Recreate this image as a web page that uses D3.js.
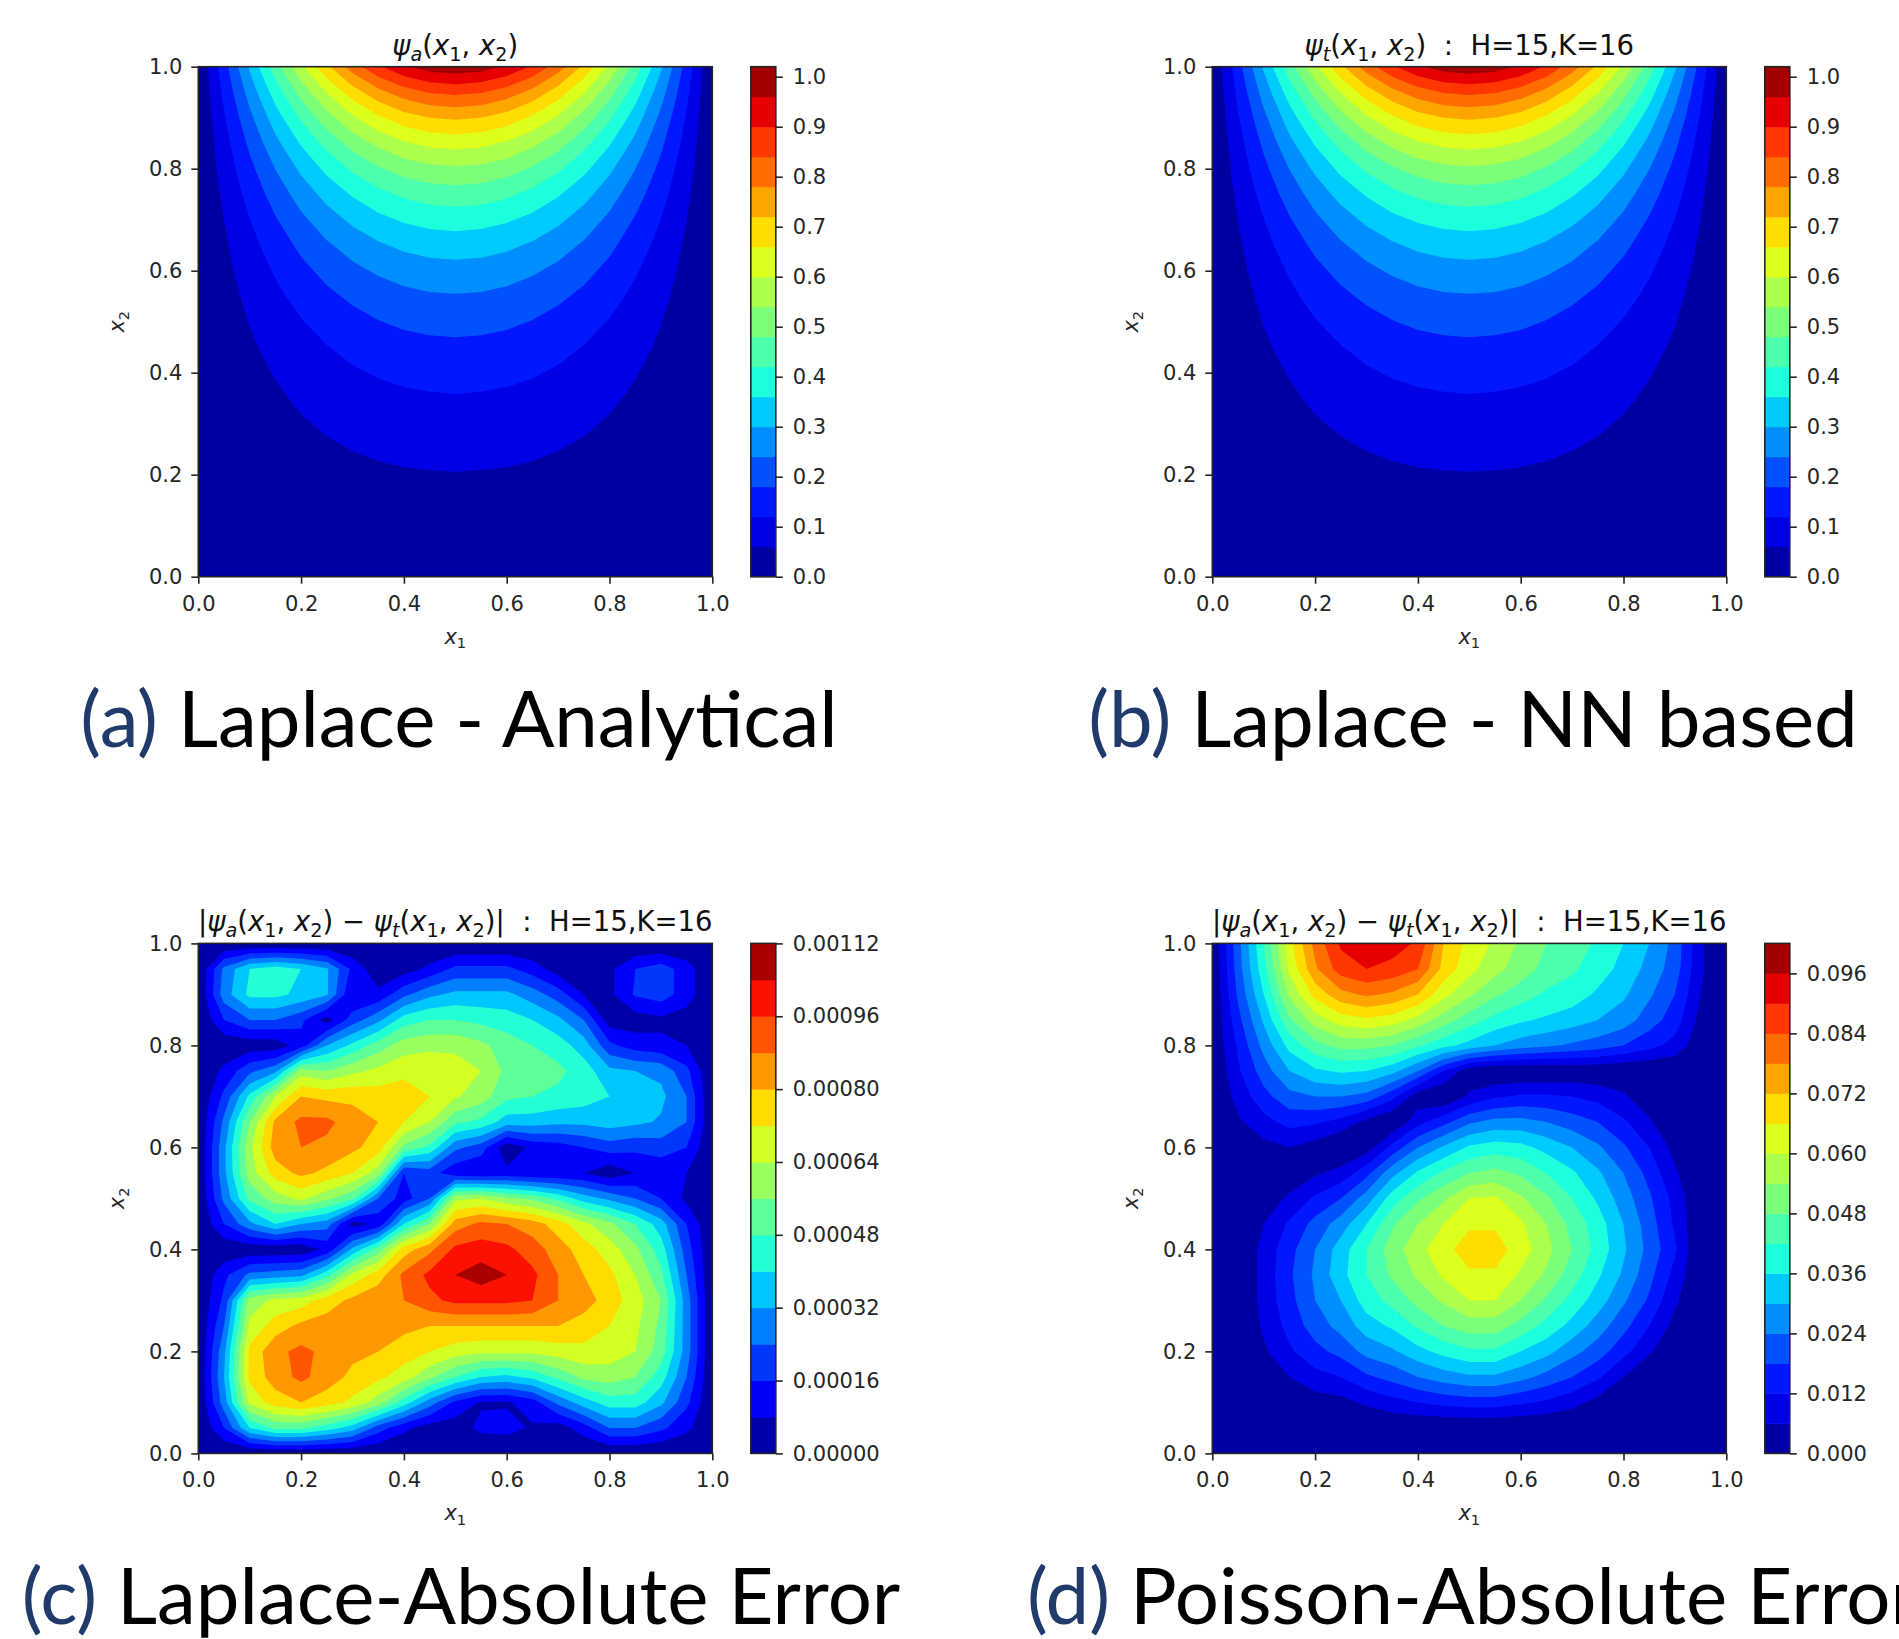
<!DOCTYPE html>
<html>
<head>
<meta charset="utf-8">
<script src="https://cdn.jsdelivr.net/npm/d3@7"></script>
<style>
  body { margin: 0; background: #fff; }
  .title { white-space: pre; }
</style>
</head>
<body>
<svg id="figure" width="1899" height="1639"></svg>
<script>
// sample grid: 21 x 21 points, x1 and x2 both from 0 to 1 in steps of 0.05
// every inner array is one x1 column, its values run from x2 = 0 up to x2 = 1
const axisTicks = [0, 0.2, 0.4, 0.6, 0.8, 1.0];

// (a) analytical Laplace solution
const laplaceAnalytical = [
  [0, 0, 0, 0, 0, 0, 0, 0, 0, 0, 0, 0, 0, 0, 0, 0, 0, 0, 0, 0, 0],
  [0, .002, .004, .007, .009, .012, .015, .018, .022, .026, .031, .037, .044, .051, .060, .071, .083, .097, .114, .134, .156],
  [0, .004, .009, .013, .018, .023, .029, .036, .043, .052, .062, .073, .086, .101, .119, .140, .164, .192, .225, .264, .309],
  [0, .006, .013, .019, .026, .034, .043, .052, .063, .076, .090, .107, .126, .149, .175, .206, .241, .283, .331, .388, .454],
  [0, .008, .016, .025, .034, .044, .055, .068, .082, .098, .117, .139, .164, .193, .227, .266, .312, .366, .429, .502, .588],
  [0, .010, .020, .030, .041, .053, .067, .082, .099, .118, .141, .167, .197, .232, .273, .320, .375, .440, .516, .604, .707],
  [0, .011, .022, .034, .047, .061, .076, .094, .113, .136, .161, .191, .225, .265, .312, .366, .430, .504, .590, .691, .809],
  [0, .012, .025, .038, .052, .067, .084, .103, .125, .149, .178, .210, .248, .292, .344, .403, .473, .555, .650, .761, .891],
  [0, .013, .026, .040, .055, .072, .090, .110, .133, .159, .190, .224, .265, .312, .367, .431, .505, .592, .694, .812, .951],
  [0, .014, .027, .042, .057, .074, .093, .114, .138, .165, .197, .233, .275, .324, .381, .447, .524, .615, .720, .844, .988],
  [0, .014, .028, .042, .058, .075, .094, .116, .140, .168, .199, .236, .279, .328, .386, .453, .531, .622, .729, .854, 1.0],
  [0, .014, .027, .042, .057, .074, .093, .114, .138, .165, .197, .233, .275, .324, .381, .447, .524, .615, .720, .844, .988],
  [0, .013, .026, .040, .055, .072, .090, .110, .133, .159, .190, .224, .265, .312, .367, .431, .505, .592, .694, .812, .951],
  [0, .012, .025, .038, .052, .067, .084, .103, .125, .149, .178, .210, .248, .292, .344, .403, .473, .555, .650, .761, .891],
  [0, .011, .022, .034, .047, .061, .076, .094, .113, .136, .161, .191, .225, .265, .312, .366, .430, .504, .590, .691, .809],
  [0, .010, .020, .030, .041, .053, .067, .082, .099, .118, .141, .167, .197, .232, .273, .320, .375, .440, .516, .604, .707],
  [0, .008, .016, .025, .034, .044, .055, .068, .082, .098, .117, .139, .164, .193, .227, .266, .312, .366, .429, .502, .588],
  [0, .006, .013, .019, .026, .034, .043, .052, .063, .076, .090, .107, .126, .149, .175, .206, .241, .283, .331, .388, .454],
  [0, .004, .009, .013, .018, .023, .029, .036, .043, .052, .062, .073, .086, .101, .119, .140, .164, .192, .225, .264, .309],
  [0, .002, .004, .007, .009, .012, .015, .018, .022, .026, .031, .037, .044, .051, .060, .071, .083, .097, .114, .134, .156],
  [0, 0, 0, 0, 0, 0, 0, 0, 0, 0, 0, 0, 0, 0, 0, 0, 0, 0, 0, 0, 0]
];
// (b) network solution: its bands read the same as (a) at this size
const laplaceNN = laplaceAnalytical;

// (c) Laplace absolute error, in units of 1e-5
const laplaceErr = [
  [0, 0, 0, 0, 0, 0, 0, 0, 0, 0, 0, 0, 0, 0, 0, 0, 0, 0, 0, 0, 0],
  [0, 16, 28, 32, 30, 24, 18, 14, 2, 16, 26, 30, 30, 26, 18, 10, 2, 16, 28, 26, 0],
  [0, 40, 66, 74, 74, 66, 60, 26, 2, 30, 50, 60, 62, 56, 42, 22, 3, 24, 42, 40, 0],
  [0, 50, 76, 84, 86, 76, 66, 28, 2, 40, 60, 76, 84, 82, 64, 30, 3, 24, 42, 44, 0],
  [0, 50, 80, 90, 90, 82, 68, 30, 2, 32, 66, 82, 88, 90, 80, 60, 12, 18, 38, 40, 0],
  [0, 44, 76, 84, 86, 84, 76, 45, 10, 28, 58, 78, 86, 90, 78, 56, 32, 4, 33, 33, 0],
  [0, 36, 70, 78, 82, 84, 82, 66, 34, 4, 50, 72, 82, 84, 78, 62, 42, 20, 8, 14, 0],
  [0, 20, 60, 74, 80, 84, 86, 76, 52, 10, 24, 60, 76, 80, 76, 66, 52, 30, 10, 2, 0],
  [0, 10, 44, 68, 76, 82, 88, 90, 76, 40, 12, 16, 54, 72, 76, 70, 60, 44, 22, 4, 0],
  [0, 4, 28, 58, 72, 80, 94, 98, 86, 56, 24, 20, 46, 64, 72, 70, 62, 48, 30, 10, 0],
  [0, 4, 14, 48, 68, 80, 98, 104, 98, 84, 62, 10, 26, 50, 65, 68, 62, 48, 34, 18, 0],
  [0, 10, 7, 40, 66, 80, 98, 108, 100, 90, 64, 8, 20, 46, 60, 64, 58, 46, 34, 18, 0],
  [0, 11, 7, 38, 66, 80, 98, 104, 98, 88, 58, 10, 2, 36, 50, 54, 52, 44, 34, 18, 0],
  [0, 7, 12, 42, 66, 80, 96, 98, 92, 84, 54, 8, 10, 36, 48, 52, 48, 40, 28, 12, 0],
  [0, 4, 26, 50, 68, 80, 88, 88, 84, 76, 46, 8, 12, 34, 46, 50, 44, 34, 20, 4, 0],
  [0, 12, 36, 58, 70, 76, 84, 80, 76, 66, 36, 8, 16, 34, 44, 44, 36, 24, 8, 2, 0],
  [0, 24, 44, 60, 68, 72, 76, 74, 68, 58, 30, 2, 20, 36, 40, 34, 18, 4, 6, 6, 0],
  [0, 24, 44, 56, 64, 66, 68, 64, 58, 48, 24, 8, 18, 34, 38, 32, 12, 4, 17, 16, 0],
  [0, 18, 34, 44, 52, 54, 56, 50, 44, 36, 16, 10, 20, 31, 34, 30, 10, 6, 20, 20, 0],
  [0, 10, 18, 24, 28, 28, 28, 24, 20, 16, 6, 8, 16, 24, 24, 18, 8, 4, 12, 12, 0],
  [0, 0, 0, 0, 0, 0, 0, 0, 0, 0, 0, 0, 0, 0, 0, 0, 0, 0, 0, 0, 0]
];
const laplaceErrUnit = 1e-5;

// (d) Poisson absolute error, in units of 1e-3
const poissonErr = [
  [0, 0, 0, 0, 0, 0, 0, 0, 0, 0, 0, 0, 0, 0, 0, 0, 0, 0, 0, 0, 0],
  [0, 0, 0, 0, 0, 0, 0, 0, 0, 0, 0, 0, 2, 5, 8, 11, 13, 16, 19, 21, 22],
  [0, 0, 0, 2, 5, 7, 8, 8, 8, 6, 3, 0, 4, 10, 16, 21, 26, 31, 36, 40, 42],
  [0, 0, 0, 6, 11, 14, 16, 17, 16, 13, 7, 2, 6, 14, 22, 30, 38, 47, 55, 61, 64],
  [0, 0, 3, 10, 16, 21, 24, 25, 24, 20, 13, 5, 3, 13, 24, 35, 46, 57, 68, 77, 80],
  [0, 0, 4, 12, 20, 26, 30, 34, 33, 27, 18, 8, 0, 10, 24, 37, 50, 63, 76, 87, 91],
  [0, 0, 7, 17, 26, 33, 39, 42, 42, 36, 27, 16, 3, 4, 22, 36, 50, 65, 79, 90, 94],
  [0, 0, 10, 20, 29, 37, 44, 49, 51, 47, 39, 28, 14, 0, 14, 32, 48, 63, 77, 88, 93],
  [0, 0, 12, 24, 34, 43, 50, 55, 58, 54, 47, 37, 24, 10, 2, 24, 43, 58, 72, 84, 89],
  [0, 0, 14, 27, 38, 48, 55, 61, 64, 60, 53, 43, 31, 16, 0, 12, 38, 51, 62, 70, 72],
  [0, 0, 15, 29, 41, 51, 60, 65, 69, 65, 60, 48, 37, 23, 7, 2, 34, 45, 55, 62, 64],
  [0, 0, 15, 29, 41, 51, 60, 65, 69, 65, 61, 50, 39, 26, 11, 0, 30, 40, 49, 56, 59],
  [0, 0, 13, 26, 36, 46, 54, 59, 63, 61, 55, 47, 38, 26, 13, 0, 27, 37, 45, 51, 53],
  [0, 0, 11, 22, 32, 40, 47, 53, 56, 54, 49, 42, 34, 24, 13, 0, 25, 35, 41, 46, 48],
  [0, 0, 8, 18, 26, 34, 40, 45, 48, 46, 42, 37, 30, 21, 12, 1, 23, 33, 39, 43, 45],
  [0, 0, 4, 13, 21, 27, 33, 37, 40, 39, 35, 31, 25, 18, 10, 1, 21, 30, 35, 39, 41],
  [0, 0, 0, 6, 14, 20, 25, 29, 31, 30, 27, 24, 19, 13, 7, 0, 18, 27, 31, 34, 36],
  [0, 0, 0, 0, 7, 12, 17, 20, 22, 21, 19, 16, 12, 7, 2, 0, 14, 21, 25, 28, 30],
  [0, 0, 0, 0, 0, 4, 7, 10, 13, 11, 10, 7, 4, 0, 0, 0, 10, 15, 18, 21, 22],
  [0, 0, 0, 0, 0, 0, 0, 0, 0, 0, 0, 0, 0, 0, 0, 0, 2, 4, 6, 7, 7],
  [0, 0, 0, 0, 0, 0, 0, 0, 0, 0, 0, 0, 0, 0, 0, 0, 0, 0, 0, 0, 0]
];
const poissonErrUnit = 1e-3;

// contour levels and colorbar ticks
const laplaceLevels = [0, 0.06, 0.12, 0.18, 0.24, 0.30, 0.36, 0.42, 0.48, 0.54, 0.60, 0.66, 0.72, 0.78, 0.84, 0.90, 0.96, 1.02];
const laplaceCbTicks = [0, 0.1, 0.2, 0.3, 0.4, 0.5, 0.6, 0.7, 0.8, 0.9, 1.0];
const laplaceErrLevels = [0, 0.00008, 0.00016, 0.00024, 0.00032, 0.00040, 0.00048, 0.00056, 0.00064, 0.00072, 0.00080, 0.00088, 0.00096, 0.00104, 0.00112];
const laplaceErrCbTicks = [0, 0.00016, 0.00032, 0.00048, 0.00064, 0.00080, 0.00096, 0.00112];
const poissonErrLevels = [0, 0.006, 0.012, 0.018, 0.024, 0.030, 0.036, 0.042, 0.048, 0.054, 0.060, 0.066, 0.072, 0.078, 0.084, 0.090, 0.096, 0.102];
const poissonErrCbTicks = [0, 0.012, 0.024, 0.036, 0.048, 0.060, 0.072, 0.084, 0.096];

// title pieces: [text, style]  n = upright, i = italic, sub / isub = subscript
const psiArgs = [["(", "n"], ["x", "i"], ["1", "sub"], [", ", "n"], ["x", "i"], ["2", "sub"], [")", "n"]];
const titleA = [["ψ", "i"], ["a", "isub"], ...psiArgs];
const titleB = [["ψ", "i"], ["t", "isub"], ...psiArgs, ["  :  H=15,K=16", "n"]];
const titleErr = [["|", "n"], ["ψ", "i"], ["a", "isub"], ...psiArgs, [" − ", "n"],
  ["ψ", "i"], ["t", "isub"], ...psiArgs, ["|  :  H=15,K=16", "n"]];

// matplotlib "jet"
const jetR = d3.scaleLinear().domain([0, 0.35, 0.66, 0.89, 1]).range([0, 0, 1, 1, 0.5]);
const jetG = d3.scaleLinear().domain([0, 0.125, 0.375, 0.64, 0.91, 1]).range([0, 0, 1, 1, 0, 0]);
const jetB = d3.scaleLinear().domain([0, 0.11, 0.34, 0.65, 1]).range([0.5, 1, 1, 0, 0]);
const jet = (t) => d3.rgb(255 * jetR(t), 255 * jetG(t), 255 * jetB(t)).formatHex();

const svg = d3.select("#figure");
svg.append("rect").attr("width", 1899).attr("height", 1639).attr("fill", "#fff");

const plotW = 514, plotH = 510;
const cbOffset = 552.5, cbW = 25;
const ink = "#262626";
const tickFont = 21, titleFont = 27.5;
const mathFont = "DejaVu Sans";
const captionFont = "Lato", captionSize = 78;

function richText(sel, segs, size) {
  let low = false;
  sel.style("font-family", mathFont);
  segs.forEach(([t, s]) => {
    const sub = s === "sub" || s === "isub";
    const ts = sel.append("tspan").text(t)
      .style("font-style", s === "i" || s === "isub" ? "italic" : "normal")
      .style("font-size", (sub ? size * 0.7 : size) + "px");
    if (sub !== low) {
      ts.attr("dy", sub ? size * 0.22 : -size * 0.22);
      low = sub;
    }
  });
}

function styleAxis(g) {
  g.select(".domain").remove();
  g.selectAll(".tick line").attr("stroke", ink).attr("stroke-width", 1.6);
  g.selectAll(".tick text").attr("fill", ink)
    .style("font-size", tickFont + "px").style("font-family", mathFont);
}

function drawPanel(p, idx) {
  const g = svg.append("g");
  const x = d3.scaleLinear().domain([0, 1]).range([p.left, p.left + plotW]);
  const y = d3.scaleLinear().domain([0, 1]).range([p.top + plotH, p.top]);

  // d3.contours puts sample k at grid coordinate k + 0.5
  const n = p.cols.length, m = p.cols[0].length;
  const cx = d3.scaleLinear().domain([0.5, n - 0.5]).range([x(0), x(1)]);
  const cy = d3.scaleLinear().domain([0.5, m - 0.5]).range([y(0), y(1)]);
  const values = new Array(n * m);
  p.cols.forEach((col, i) => col.forEach((v, j) => { values[i + j * n] = v * p.unit; }));

  const nBands = p.levels.length - 1;
  const bandColor = (k) => jet((k + 0.5) / nBands);
  const bands = d3.contours().size([n, m]).thresholds(p.levels.slice(0, -1))(values);

  const path = d3.geoPath(d3.geoTransform({
    point(px, py) { this.stream.point(cx(px), cy(py)); }
  }));

  const clipId = "clip" + idx;
  g.append("clipPath").attr("id", clipId).append("rect")
    .attr("x", p.left).attr("y", p.top).attr("width", plotW).attr("height", plotH);

  g.append("g").attr("clip-path", `url(#${clipId})`)
    .selectAll("path").data(bands).join("path")
    .attr("d", path)
    .attr("fill", (d, k) => bandColor(k))
    .attr("stroke", "none");

  g.append("rect").attr("x", p.left).attr("y", p.top).attr("width", plotW).attr("height", plotH)
    .attr("fill", "none").attr("stroke", ink).attr("stroke-width", 1.6);

  g.append("g").attr("transform", `translate(0,${p.top + plotH})`)
    .call(d3.axisBottom(x).tickValues(axisTicks).tickFormat(d3.format(".1f")).tickSize(7).tickPadding(12))
    .call(styleAxis);
  g.append("g").attr("transform", `translate(${p.left},0)`)
    .call(d3.axisLeft(y).tickValues(axisTicks).tickFormat(d3.format(".1f")).tickSize(7).tickPadding(9))
    .call(styleAxis);

  // axis labels
  richText(g.append("text").attr("x", p.left + plotW / 2).attr("y", p.top + plotH + 67)
    .attr("text-anchor", "middle").attr("fill", ink), [["x", "i"], ["1", "sub"]], tickFont);
  richText(g.append("text")
    .attr("transform", `translate(${p.left - 74},${p.top + plotH / 2}) rotate(-90)`)
    .attr("text-anchor", "middle").attr("fill", ink), [["x", "i"], ["2", "sub"]], tickFont);

  // title
  richText(g.append("text").attr("class", "title")
    .attr("x", p.left + plotW / 2).attr("y", p.top - 12)
    .attr("text-anchor", "middle").attr("fill", "#111"), p.title, titleFont);

  // colorbar
  const cbX = p.left + cbOffset;
  const cb = d3.scaleLinear().domain([p.levels[0], p.levels[nBands]]).range([p.top + plotH, p.top]);
  g.append("g").selectAll("rect").data(d3.range(nBands)).join("rect")
    .attr("x", cbX).attr("width", cbW)
    .attr("y", (k) => cb(p.levels[k + 1]))
    .attr("height", (k) => cb(p.levels[k]) - cb(p.levels[k + 1]) + 0.5)
    .attr("fill", bandColor);
  g.append("rect").attr("x", cbX).attr("y", p.top).attr("width", cbW).attr("height", plotH)
    .attr("fill", "none").attr("stroke", ink).attr("stroke-width", 1.6);
  g.append("g").attr("transform", `translate(${cbX + cbW},0)`)
    .call(d3.axisRight(cb).tickValues(p.cbTicks).tickFormat(p.cbFormat).tickSize(7).tickPadding(10))
    .call(styleAxis);

  // caption under the panel
  const cap = g.append("text").attr("x", p.capX).attr("y", p.capY)
    .attr("text-anchor", "middle")
    .style("font-family", captionFont).style("font-size", captionSize + "px")
    .style("white-space", "pre");
  cap.append("tspan").text(p.caption[0]).attr("fill", "#1f3a6b");
  cap.append("tspan").text(p.caption[1]).attr("fill", "#000");
}

const rowTop = [66.7, 943.4];
const colLeft = [198.3, 1212.3];
const panels = [
  { left: colLeft[0], top: rowTop[0], cols: laplaceAnalytical, unit: 1, levels: laplaceLevels,
    cbTicks: laplaceCbTicks, cbFormat: d3.format(".1f"), title: titleA,
    caption: ["(a)", " Laplace - Analytical"], capX: 459, capY: 747 },
  { left: colLeft[1], top: rowTop[0], cols: laplaceNN, unit: 1, levels: laplaceLevels,
    cbTicks: laplaceCbTicks, cbFormat: d3.format(".1f"), title: titleB,
    caption: ["(b)", " Laplace - NN based"], capX: 1473, capY: 747 },
  { left: colLeft[0], top: rowTop[1], cols: laplaceErr, unit: laplaceErrUnit, levels: laplaceErrLevels,
    cbTicks: laplaceErrCbTicks, cbFormat: d3.format(".5f"), title: titleErr,
    caption: ["(c)", " Laplace-Absolute Error"], capX: 461, capY: 1624 },
  { left: colLeft[1], top: rowTop[1], cols: poissonErr, unit: poissonErrUnit, levels: poissonErrLevels,
    cbTicks: poissonErrCbTicks, cbFormat: d3.format(".3f"), title: titleErr,
    caption: ["(d)", " Poisson-Absolute Error"], capX: 1473, capY: 1624 }
];
panels.forEach(drawPanel);
</script>
</body>
</html>
